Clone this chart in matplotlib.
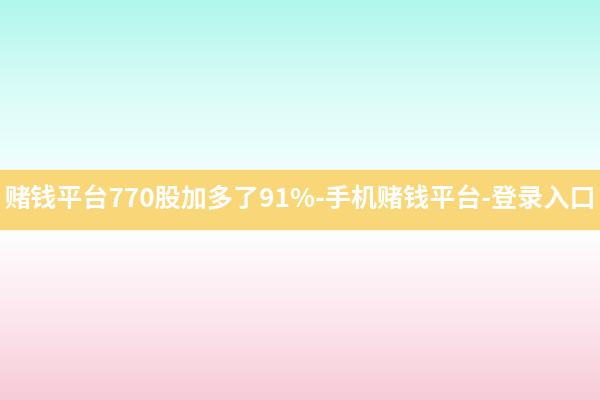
import numpy as np
import matplotlib.pyplot as plt
from matplotlib.colors import LinearSegmentedColormap

# colours
top_colors = ['#b0f7ec', '#d8fcf7', '#f0fffe']
bottom_colors = ['#ffffff', '#fde7ee', '#f7cbd8']
band_color = '#f9d778'
title = '赌钱平台770股加多了91%-手机赌钱平台-登录入口'

plt.rcParams['font.family'] = ['Noto Sans CJK SC', 'DejaVu Sans']

fig = plt.figure(figsize=(6, 4), dpi=100)
ax = fig.add_axes([0, 0, 1, 1])
ax.set_xlim(0, 600)
ax.set_ylim(400, 0)
ax.axis('off')

grad = np.linspace(0, 1, 256).reshape(-1, 1)
top_cmap = LinearSegmentedColormap.from_list('top', top_colors)
bot_cmap = LinearSegmentedColormap.from_list('bot', bottom_colors)
ax.imshow(grad, cmap=top_cmap, extent=[0, 600, 170, 0], aspect='auto')
ax.imshow(grad, cmap=bot_cmap, extent=[0, 600, 400, 229], aspect='auto')
ax.axhspan(170, 229, color=band_color)

ax.text(300, 200, title, color='white', fontsize=18.8, fontweight='bold',
        ha='center', va='center')

fig.savefig('out.png', dpi=100)
